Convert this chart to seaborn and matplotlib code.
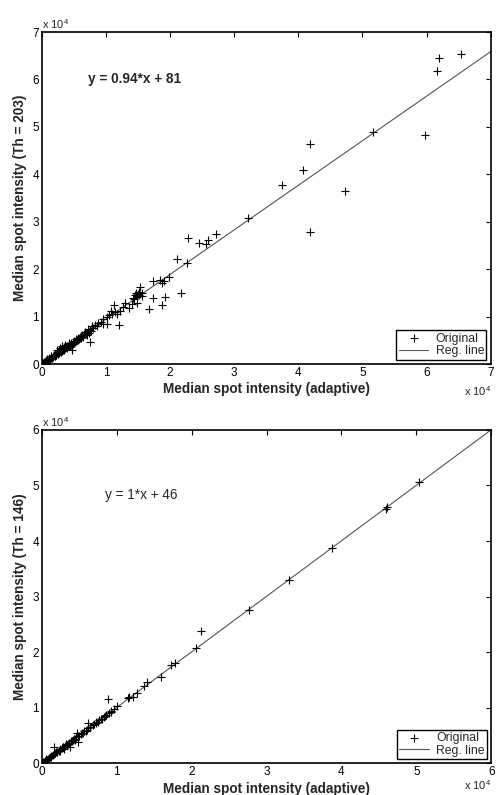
import numpy as np
import pandas as pd
import seaborn as sns
from matplotlib import pyplot as plt

# spot intensities, in units of 1e4
# upper panel: fixed threshold Th = 203
adaptive_203 = [3.74, 4.07, 4.18, 4.73, 5.17, 5.98, 6.16, 6.19, 6.54, 4.19, 3.21,
                2.71, 2.59, 2.56, 2.45, 2.28, 2.11, 2.27, 1.99, 1.90, 1.84, 1.74, 1.87,
                2.17, 1.92, 1.74, 1.88, 1.67, 1.56, 1.56, 1.53,
                1.42, 1.45, 1.47, 1.49, 1.51, 1.44, 1.48, 1.50, 1.52, 1.40,
                1.36, 1.30, 1.26, 1.22, 1.20, 1.18, 1.15, 1.12, 1.10, 1.08, 1.05, 1.02,
                1.01, 0.95, 0.95, 0.92, 0.88, 0.86,
                0.83, 0.80, 0.78, 0.76, 0.75, 0.73, 0.72, 0.70, 0.68, 0.66, 0.64, 0.62,
                0.60, 0.58, 0.57, 0.55, 0.53, 0.52, 0.50, 0.48, 0.47, 0.46, 0.44, 0.43,
                0.41, 0.40, 0.38, 0.37, 0.35, 0.34, 0.32, 0.31, 0.29, 0.28, 0.27, 0.25,
                0.24, 0.23, 0.21, 0.20, 0.19, 0.17, 0.16, 0.15, 0.13, 0.12, 0.11, 0.09,
                0.08, 0.07, 0.05, 0.04, 0.03, 0.02, 0.01, 0.015, 0.06, 0.10, 0.14, 0.18,
                0.22, 0.26, 0.30, 0.33, 0.36, 0.39, 0.42, 0.45, 0.49, 0.51, 0.54, 0.56,
                0.59, 0.61, 0.63, 0.12, 0.21, 0.27, 0.35, 0.44, 0.57, 0.69, 0.77]
fixed_203 = [3.77, 4.09, 4.63, 3.64, 4.90, 4.82, 6.18, 6.45, 6.53, 2.78, 3.07,
             2.75, 2.61, 2.54, 2.56, 2.65, 2.21, 2.12, 1.83, 1.76, 1.77, 1.76, 1.70,
             1.49, 1.42, 1.39, 1.24, 1.17, 1.49, 1.43, 1.63,
             1.40, 1.45, 1.50, 1.42, 1.52, 1.38, 1.28, 1.47, 1.45, 1.27,
             1.19, 1.28, 1.20, 1.12, 0.82, 1.05, 1.10, 1.24, 1.05, 1.12, 1.04, 0.99,
             0.84, 0.84, 0.96, 0.88, 0.87, 0.80,
             0.82, 0.76, 0.80, 0.47, 0.72, 0.66, 0.74, 0.62, 0.68, 0.64, 0.58, 0.60,
             0.57, 0.52, 0.55, 0.50, 0.52, 0.47, 0.49, 0.43, 0.30, 0.45, 0.40, 0.44,
             0.37, 0.39, 0.36, 0.40, 0.31, 0.35, 0.38, 0.28, 0.30, 0.34, 0.24, 0.25,
             0.30, 0.20, 0.22, 0.16, 0.20, 0.17, 0.13, 0.16, 0.11, 0.13, 0.09, 0.10,
             0.06, 0.08, 0.05, 0.03, 0.04, 0.01, 0.02, 0.005, 0.04, 0.07, 0.12, 0.15,
             0.19, 0.22, 0.26, 0.29, 0.33, 0.34, 0.38, 0.41, 0.46, 0.45, 0.48, 0.53,
             0.55, 0.54, 0.62, 0.08, 0.17, 0.29, 0.30, 0.37, 0.50, 0.63, 0.69]

# lower panel: fixed threshold Th = 146
adaptive_146 = [5.03, 4.59, 4.61, 3.88, 3.30, 2.76, 2.13, 2.06, 1.78, 1.73, 1.59,
                1.40, 1.37, 1.27, 1.22, 1.17, 1.15, 0.88, 1.01, 0.97, 0.93, 0.90, 0.86,
                0.83, 0.80, 0.77, 0.75, 0.72, 0.70, 0.68, 0.65, 0.62, 0.62, 0.60, 0.57,
                0.55, 0.52, 0.50, 0.48, 0.47, 0.46, 0.44, 0.42, 0.40, 0.38, 0.37, 0.35,
                0.33, 0.31, 0.29, 0.27, 0.25, 0.23, 0.21, 0.19, 0.16, 0.17, 0.15, 0.13,
                0.11, 0.10, 0.08, 0.06, 0.05, 0.03, 0.02, 0.01, 0.04, 0.07, 0.12, 0.18,
                0.24, 0.28, 0.34, 0.39, 0.43, 0.49, 0.54, 0.59, 0.64, 0.73, 0.79, 0.85,
                0.92, 0.25, 0.30, 0.45]
fixed_146 = [5.07, 4.58, 4.62, 3.87, 3.30, 2.76, 2.38, 2.07, 1.81, 1.76, 1.55,
             1.46, 1.39, 1.26, 1.20, 1.19, 1.17, 1.15, 1.03, 0.98, 0.94, 0.90, 0.87,
             0.84, 0.80, 0.78, 0.75, 0.72, 0.71, 0.69, 0.65, 0.72, 0.63, 0.60, 0.58,
             0.55, 0.53, 0.50, 0.39, 0.54, 0.47, 0.44, 0.42, 0.41, 0.30, 0.37, 0.35,
             0.34, 0.31, 0.30, 0.27, 0.26, 0.23, 0.21, 0.20, 0.29, 0.17, 0.15, 0.13,
             0.12, 0.10, 0.08, 0.07, 0.05, 0.03, 0.02, 0.01, 0.05, 0.06, 0.11, 0.19,
             0.24, 0.29, 0.33, 0.40, 0.43, 0.49, 0.54, 0.58, 0.65, 0.74, 0.79, 0.85,
             0.92, 0.22, 0.26, 0.42]

# regression fits as printed on the plots (real units)
slopes = [0.94, 1.0]
intercepts = [81, 46]
thresholds = [203, 146]
axis_max = [7, 6]

sns.set_style("white")
plt.rcParams['font.family'] = ['Liberation Sans', 'DejaVu Sans']
plt.rcParams['mathtext.fontset'] = 'custom'
plt.rcParams['mathtext.rm'] = 'Liberation Sans'

fig = plt.figure(figsize=(4.96, 7.95), dpi=100)
ax_top = fig.add_axes([0.0841, 0.5421, 0.9053, 0.4176])
ax_bot = fig.add_axes([0.0841, 0.0399, 0.9065, 0.4193])

panels = [
    (ax_top, adaptive_203, fixed_203, (0.72, 6.0), 'bold', -0.06),
    (ax_bot, adaptive_146, fixed_146, (0.845, 4.83), 'normal', -0.045),
]

for i, (ax, xs, ys, eq_pos, eq_weight, off_y) in enumerate(panels):
    df = pd.DataFrame({'adaptive': xs, 'fixed': ys})
    lim = axis_max[i]
    sns.scatterplot(data=df, x='adaptive', y='fixed', marker='+', color='k',
                    s=36, linewidth=0.8, label='Original', ax=ax, zorder=3)
    # regression line from the printed equation
    line_x = np.array([0, lim])
    line_y = slopes[i] * line_x + intercepts[i] / 1e4
    sns.lineplot(x=line_x, y=line_y, color='#555555', linewidth=0.8,
                 label='Reg. line', ax=ax, zorder=2)

    ax.set_xlim(0, lim)
    ax.set_ylim(0, lim)
    ax.set_xticks(range(lim + 1))
    ax.set_yticks(range(lim + 1))
    ax.tick_params(direction='in', top=True, right=True, length=3.5, width=0.8,
                   labelsize=8.5, pad=2, colors='k')
    for sp in ax.spines.values():
        sp.set_linewidth(1.2)
        sp.set_color('k')

    ax.set_xlabel('Median spot intensity (adaptive)', fontsize=9.8, fontweight='bold',
                  labelpad=2.5)
    ax.set_ylabel('Median spot intensity (Th = %d)' % thresholds[i], fontsize=9.8,
                  fontweight='bold', labelpad=4)

    ax.text(0, 1.004, r'x 10$^4$', transform=ax.transAxes, ha='left', va='bottom',
            fontsize=8)
    ax.text(1.0, off_y, r'x 10$^4$', transform=ax.transAxes, ha='right', va='top',
            fontsize=8)

    slope_txt = '%g' % slopes[i]
    ax.text(eq_pos[0], eq_pos[1], 'y = %s*x + %d' % (slope_txt, intercepts[i]),
            fontsize=9.8, fontweight=eq_weight, ha='left', va='center')

    leg = ax.legend(loc='lower right', frameon=True, fancybox=False, edgecolor='k',
                    framealpha=1, fontsize=8.8, borderpad=0.2, handlelength=2.4,
                    labelspacing=0.05, handletextpad=0.6, borderaxespad=0.35)
    leg.get_frame().set_linewidth(1.0)

fig.savefig('out.png', dpi=100)
